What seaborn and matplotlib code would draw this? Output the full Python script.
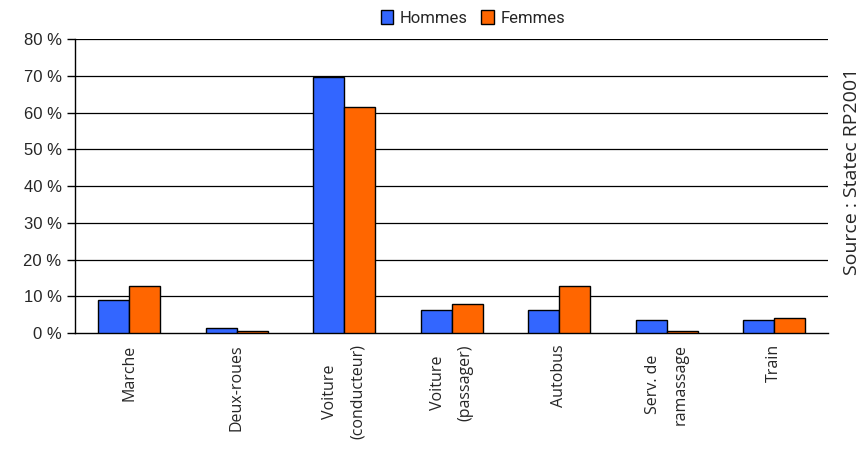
import numpy as np
import pandas as pd
import seaborn as sns
import matplotlib.pyplot as plt

categories = ["Marche", "Deux-roues", "Voiture\n(conducteur)", "Voiture\n(passager)",
              "Autobus", "Serv. de\nramassage", "Train"]
hommes = [9.0, 1.4, 69.8, 6.4, 6.4, 3.5, 3.5]
femmes = [12.9, 0.6, 61.5, 7.9, 12.9, 0.6, 4.2]
yticks = [0, 10, 20, 30, 40, 50, 60, 70, 80]
source = "Source : Statec RP2001"

df = pd.DataFrame({
    "cat": categories * 2,
    "val": hommes + femmes,
    "sexe": ["Hommes"] * len(categories) + ["Femmes"] * len(categories),
})

sns.set_style("white")
plt.rcParams['font.family'] = ['Liberation Sans', 'DejaVu Sans']

fig, ax = plt.subplots(figsize=(8.67, 4.49), dpi=100)
fig.subplots_adjust(left=0.087, right=0.955, top=0.913, bottom=0.258)

sns.barplot(data=df, x="cat", y="val", hue="sexe", order=categories,
            palette={"Hommes": "#3366FF", "Femmes": "#FF6600"}, saturation=1,
            width=0.58, edgecolor="black", linewidth=1, ax=ax, zorder=3)

ax.set_ylim(0, 80)
ax.set_xlim(-0.5, len(categories) - 0.5)
ax.set_yticks(yticks)
ax.set_yticklabels([f"{v} %" for v in yticks], fontsize=12)
for v in yticks[1:]:
    ax.axhline(v, color="black", lw=0.9, zorder=1)

ax.set_xticks(range(len(categories)))
ax.set_xticklabels(categories, rotation=90, fontsize=11.5, va="top", ha="center",
                   multialignment="center", family=["Open Sans", "DejaVu Sans"],
                   linespacing=2.0)
ax.tick_params(axis="x", which="major", length=0, pad=8)
ax.set_xticks(np.arange(-0.5, len(categories), 1), minor=True)
ax.tick_params(axis="x", which="minor", length=6, width=1, color="black", direction="out")
ax.tick_params(axis="y", length=6, width=1, color="black", direction="out", left=True, pad=4)

ax.set_xlabel("")
ax.set_ylabel("")
for s in ["top", "right"]:
    ax.spines[s].set_visible(False)
for s in ["left", "bottom"]:
    ax.spines[s].set_color("black")
    ax.spines[s].set_linewidth(1)

leg = ax.legend(loc="lower center", bbox_to_anchor=(0.528, 1.0), ncol=2, frameon=False,
                prop={"family": ["Roboto", "DejaVu Sans"], "size": 12},
                handlelength=0.75, handleheight=0.9, handletextpad=0.4,
                columnspacing=0.8, borderaxespad=0.4)
for h in leg.legend_handles:
    h.set_edgecolor("black")
    h.set_linewidth(1)

fig.text(0.983, 0.618, source, rotation=90, ha="center", va="center", fontsize=14,
         family=["Open Sans", "DejaVu Sans"])

fig.savefig("out.png", dpi=100)
